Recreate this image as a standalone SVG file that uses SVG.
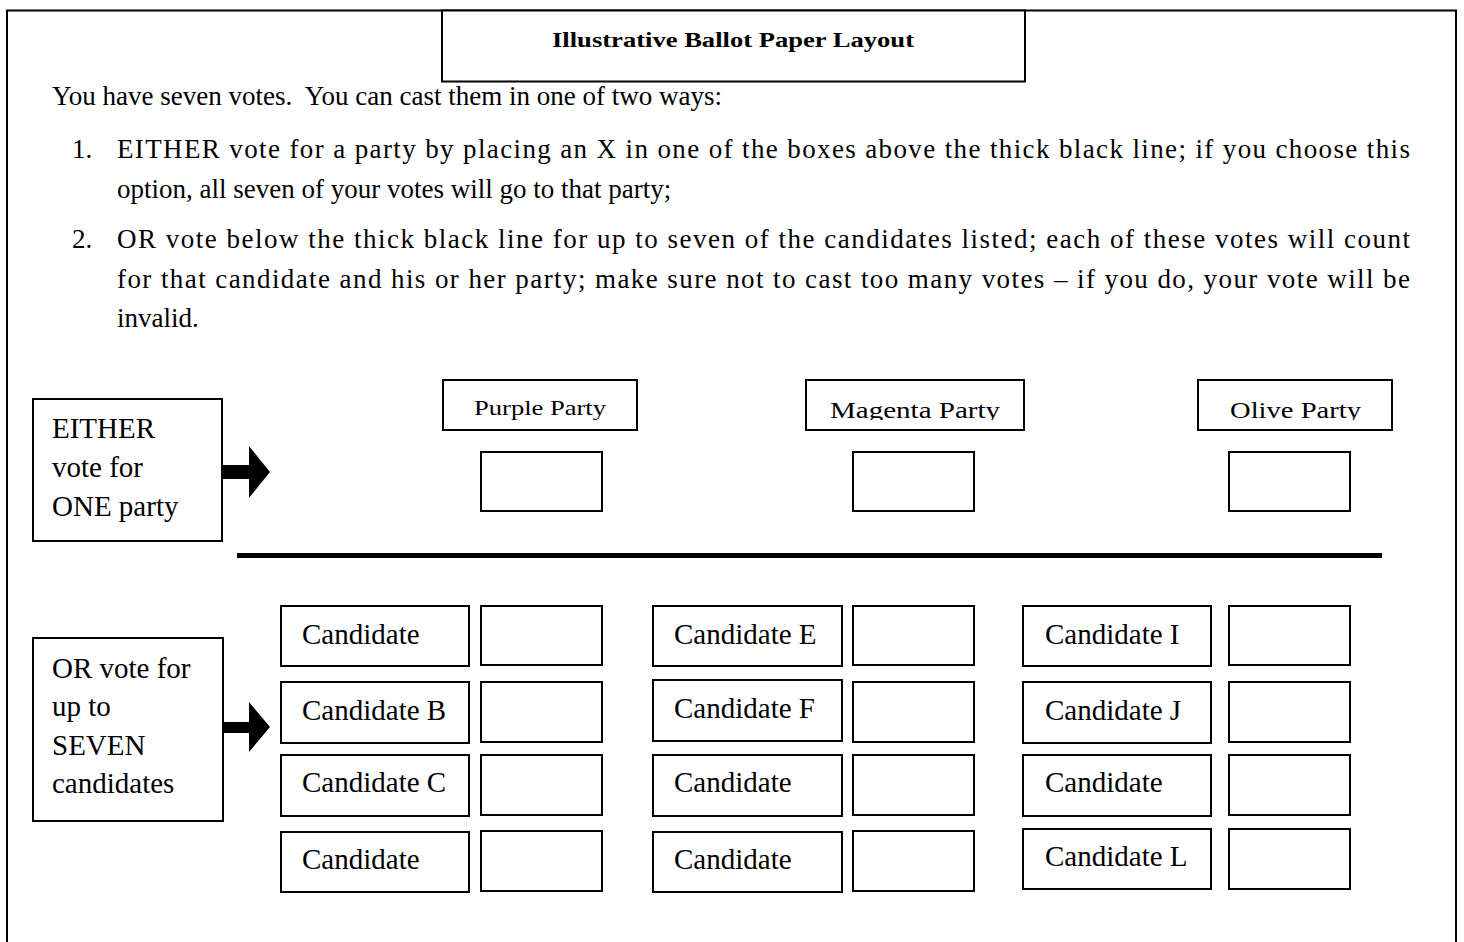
<svg xmlns="http://www.w3.org/2000/svg" width="1464" height="942" viewBox="0 0 1464 942">
<style>
text{font-family:"Liberation Serif","Times New Roman",serif;fill:#000}
.b{fill:#fff;stroke:#000;stroke-width:2}
.t{font-size:29px}
.body{font-size:27px}
.title{font-size:22px;font-weight:bold}
</style>
<defs>
<clipPath id="cp1"><rect x="443" y="380" width="194" height="45"/></clipPath>
<clipPath id="cp2"><rect x="806" y="380" width="218" height="40"/></clipPath>
<clipPath id="cp3"><rect x="1198" y="380" width="194" height="40"/></clipPath>
</defs>
<rect width="1464" height="942" fill="#fff"/>
<g id="frame">
<path d="M7 950 V10.5 H1456 V950" fill="none" stroke="#000" stroke-width="2"/>
</g>
<g id="title">
<rect class="b" x="442" y="10.5" width="583" height="71"/>
<text class="title" x="552" y="47" textLength="362" lengthAdjust="spacingAndGlyphs">Illustrative Ballot Paper Layout</text>
</g>
<g id="instructions" class="body">
<text x="52" y="105" xml:space="preserve">You have seven votes.  You can cast them in one of two ways:</text>
<text x="72" y="158">1.</text>
<text x="117" y="158" textLength="1293" lengthAdjust="spacing">EITHER vote for a party by placing an X in one of the boxes above the thick black line; if you choose this</text>
<text x="117" y="198">option, all seven of your votes will go to that party;</text>
<text x="72" y="248">2.</text>
<text x="117" y="248" textLength="1293" lengthAdjust="spacing">OR vote below the thick black line for up to seven of the candidates listed; each of these votes will count</text>
<text x="117" y="288" textLength="1293" lengthAdjust="spacing">for that candidate and his or her party; make sure not to cast too many votes – if you do, your vote will be</text>
<text x="117" y="327">invalid.</text>
</g>
<g id="either">
<rect class="b" x="33" y="399" width="189" height="142"/>
<text class="t" x="52" y="438">EITHER</text>
<text class="t" x="52" y="477">vote for</text>
<text class="t" x="52" y="516">ONE party</text>
</g>
<g id="or">
<rect class="b" x="33" y="638" width="190" height="183"/>
<text class="t" x="52" y="678">OR vote for</text>
<text class="t" x="52" y="716">up to</text>
<text class="t" x="52" y="755">SEVEN</text>
<text class="t" x="52" y="793">candidates</text>
</g>
<g id="party-purple">
<rect class="b" x="443" y="380" width="194" height="50"/>
<text x="474" y="415" font-size="21" textLength="132" lengthAdjust="spacingAndGlyphs" clip-path="url(#cp1)">Purple Party</text>
<rect class="b" x="481" y="452" width="121" height="59"/>
</g>
<g id="party-magenta">
<rect class="b" x="806" y="380" width="218" height="50"/>
<text x="830" y="418" font-size="24" textLength="170" lengthAdjust="spacingAndGlyphs" clip-path="url(#cp2)">Magenta Party</text>
<rect class="b" x="853" y="452" width="121" height="59"/>
</g>
<g id="party-olive">
<rect class="b" x="1198" y="380" width="194" height="50"/>
<text x="1230" y="418" font-size="24" textLength="131" lengthAdjust="spacingAndGlyphs" clip-path="url(#cp3)">Olive Party</text>
<rect class="b" x="1229" y="452" width="121" height="59"/>
</g>
<g id="connectors">
<line x1="237" y1="555.5" x2="1382" y2="555.5" stroke="#000" stroke-width="5"/>
<path d="M222 465 H249 V446 L270 472 L249 498 V479 H222 Z" fill="#000"/>
<path d="M223 722 H249 V702 L270 727 L249 752 V733 H223 Z" fill="#000"/>
</g>
<g id="cand-A"><rect class="b" x="281" y="606" width="188" height="60"/><text class="t" x="302" y="644">Candidate</text><rect class="b" x="481" y="606" width="121" height="59"/></g>
<g id="cand-B"><rect class="b" x="281" y="682" width="188" height="61"/><text class="t" x="302" y="720">Candidate B</text><rect class="b" x="481" y="682" width="121" height="60"/></g>
<g id="cand-C"><rect class="b" x="281" y="755" width="188" height="61"/><text class="t" x="302" y="792">Candidate C</text><rect class="b" x="481" y="755" width="121" height="60"/></g>
<g id="cand-D"><rect class="b" x="281" y="832" width="188" height="60"/><text class="t" x="302" y="869">Candidate</text><rect class="b" x="481" y="831" width="121" height="60"/></g>
<g id="cand-E"><rect class="b" x="653" y="606" width="189" height="60"/><text class="t" x="674" y="644">Candidate E</text><rect class="b" x="853" y="606" width="121" height="59"/></g>
<g id="cand-F"><rect class="b" x="653" y="680" width="189" height="61"/><text class="t" x="674" y="718">Candidate F</text><rect class="b" x="853" y="682" width="121" height="60"/></g>
<g id="cand-G"><rect class="b" x="653" y="755" width="189" height="61"/><text class="t" x="674" y="792">Candidate</text><rect class="b" x="853" y="755" width="121" height="60"/></g>
<g id="cand-H"><rect class="b" x="653" y="832" width="189" height="60"/><text class="t" x="674" y="869">Candidate</text><rect class="b" x="853" y="831" width="121" height="60"/></g>
<g id="cand-I"><rect class="b" x="1023" y="606" width="188" height="60"/><text class="t" x="1045" y="644">Candidate I</text><rect class="b" x="1229" y="606" width="121" height="59"/></g>
<g id="cand-J"><rect class="b" x="1023" y="682" width="188" height="61"/><text class="t" x="1045" y="720">Candidate J</text><rect class="b" x="1229" y="682" width="121" height="60"/></g>
<g id="cand-K"><rect class="b" x="1023" y="755" width="188" height="61"/><text class="t" x="1045" y="792">Candidate</text><rect class="b" x="1229" y="755" width="121" height="60"/></g>
<g id="cand-L"><rect class="b" x="1023" y="829" width="188" height="60"/><text class="t" x="1045" y="866">Candidate L</text><rect class="b" x="1229" y="829" width="121" height="60"/></g>
</svg>
